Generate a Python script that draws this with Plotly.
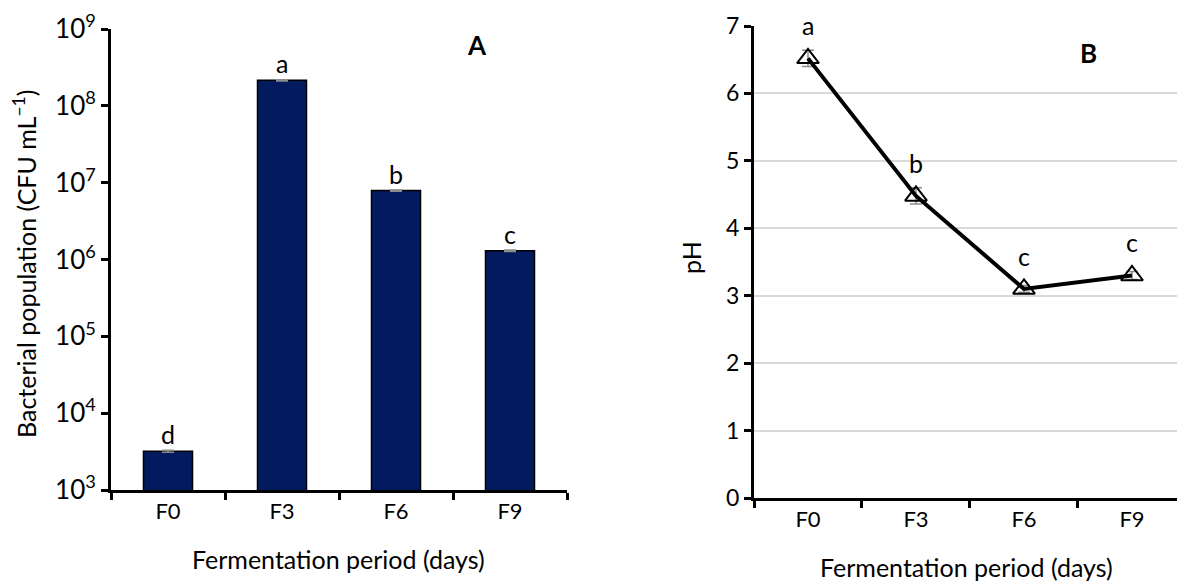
import numpy as np
import plotly.graph_objects as go

# ---- data ----
days = ["F0", "F3", "F6", "F9"]
bacteria = [3.2e3, 2.15e8, 7.9e6, 1.3e6]
bacteria_err = [1.0e2, 4.0e6, 1.5e5, 2.5e4]
bacteria_letters = ["d", "a", "b", "c"]

ph = [6.52, 4.48, 3.1, 3.3]
ph_err = [0.12, 0.12, 0.05, 0.06]
ph_letters = ["a", "b", "c", "c"]

log_ticks = [3, 4, 5, 6, 7, 8, 9]
log_ticktext = [f"10<sup>{k}</sup>" for k in log_ticks]

FONT = "Lato"
W, H = 1177, 581

fig = go.Figure()

fig.add_trace(go.Bar(
    x=days, y=bacteria, width=0.43,
    marker=dict(color="#021A5E", line=dict(color="#000000", width=1.5)),
    error_y=dict(type="data", array=bacteria_err, color="#8c8c8c", thickness=1.5, width=6),
    xaxis="x", yaxis="y", showlegend=False,
))

fig.add_trace(go.Scatter(
    x=days, y=ph, mode="lines+markers",
    line=dict(color="#000000", width=4),
    marker=dict(symbol="triangle-up-open", size=19, color="#000000", line=dict(width=2, color="#000000")),
    error_y=dict(type="data", array=ph_err, color="#8c8c8c", thickness=1.5, width=6),
    xaxis="x2", yaxis="y2", showlegend=False,
))

annotations = []
for d, v, l in zip(days, bacteria, bacteria_letters):
    annotations.append(dict(x=d, y=np.log10(v), xref="x", yref="y", text=l, showarrow=False,
                            xanchor="center", yanchor="middle", yshift=17,
                            font=dict(family=FONT, size=25, color="#000")))
for d, v, l in zip(days, ph, ph_letters):
    annotations.append(dict(x=d, y=v, xref="x2", yref="y2", text=l, showarrow=False,
                            xanchor="center", yanchor="middle", yshift=33,
                            font=dict(family=FONT, size=25, color="#000")))

# panel labels and axis titles
def paper_text(x, y, text, size, angle=0):
    return dict(x=x / W, y=1 - y / H, xref="paper", yref="paper", text=text, showarrow=False,
                xanchor="center", yanchor="middle", textangle=angle,
                font=dict(family=FONT, size=size, color="#000"))

annotations += [
    paper_text(477, 45, "<b>A</b>", 26),
    paper_text(1088, 53, "<b>B</b>", 26),
    paper_text(24, 264, "Bacterial population (CFU mL<sup>−1</sup>)", 25, -90),
    paper_text(338, 559, "Fermentation period (days)", 25),
    paper_text(691, 258, "pH", 25, -90),
    paper_text(966, 567, "Fermentation period (days)", 25),
]

axis_common = dict(showline=True, linecolor="#000000", linewidth=3, ticks="outside",
                   ticklen=7, tickwidth=3, tickcolor="#000000", zeroline=False, automargin=False)

fig.update_layout(
    width=W, height=H,
    margin=dict(l=0, r=0, t=0, b=0, pad=0, autoexpand=False),
    paper_bgcolor="white", plot_bgcolor="white",
    font=dict(family=FONT, color="#000000"),
    xaxis=dict(domain=[111 / W, 567 / W], anchor="y", type="category", range=[-0.5, 3.5],
               tickson="boundaries", showgrid=False, tickfont=dict(size=22), **axis_common),
    yaxis=dict(domain=[1 - 490 / H, 1 - 29 / H], anchor="x", type="log", range=[3, 9],
               tickvals=[10 ** k for k in log_ticks], ticktext=log_ticktext,
               showgrid=False, tickfont=dict(size=26), **axis_common),
    xaxis2=dict(domain=[754 / W, 1.0], anchor="y2", type="category", range=[-0.5, 3.417],
                tickson="boundaries", showgrid=False, tickfont=dict(size=22), **axis_common),
    yaxis2=dict(domain=[1 - 498 / H, 1 - 26 / H], anchor="x2", range=[0, 7], dtick=1,
                showgrid=True, gridcolor="#d9d9d9", gridwidth=1.5, tickfont=dict(size=23), **axis_common),
    annotations=annotations,
)

fig.write_html(
    "out.html",
    config={"displayModeBar": False},
    post_script="document.body.style.margin='0';document.body.style.overflow='hidden';",
)
